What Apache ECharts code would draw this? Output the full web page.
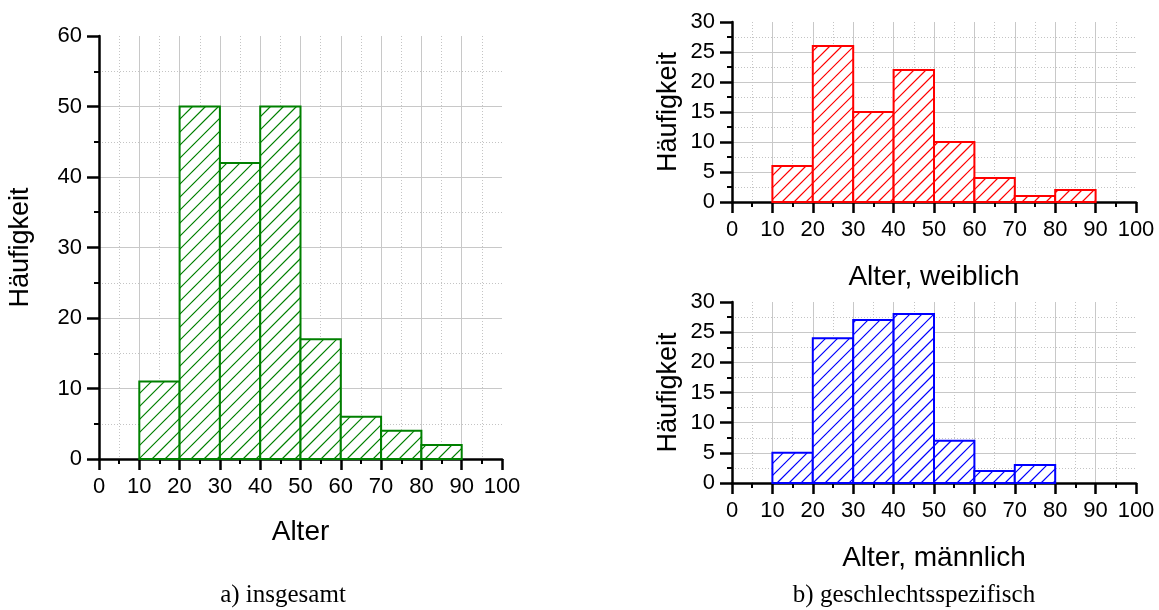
<!DOCTYPE html>
<html>
<head>
<meta charset="utf-8">
<script src="https://cdn.jsdelivr.net/npm/echarts@6/dist/echarts.min.js"></script>
<style>
  html, body { margin: 0; padding: 0; background: #ffffff; }
  #chart { width: 1159px; height: 610px; }
</style>
</head>
<body>
<div id="chart"></div>
<script>
// Age classes (lower and upper bound of each 10-year bin)
const binLower = [10, 20, 30, 40, 50, 60, 70, 80];
const binUpper = [20, 30, 40, 50, 60, 70, 80, 90];

// Frequencies per age class
const countsTotal  = [11, 50, 42, 50, 17, 6, 4, 2];
const countsFemale = [6, 26, 15, 22, 10, 4, 1, 2];
const countsMale   = [5, 24, 27, 28, 7, 2, 3, 0];

// Axis titles and panel captions
const xTitles = ['Alter', 'Alter, weiblich', 'Alter, männlich'];
const yTitle = 'Häufigkeit';
const captions = ['a) insgesamt', 'b) geschlechtsspezifisch'];

const FONT = '"Liberation Sans", Arial, sans-serif';
const SERIF = '25px "Liberation Serif", "Times New Roman", serif';

function binData(counts) {
  const out = [];
  for (let i = 0; i < counts.length; i++) {
    if (counts[i] > 0) out.push([binLower[i], binUpper[i], counts[i]]);
  }
  return out;
}

// Diagonal hatch ("/") clipped to a rectangle, anchored to a global lattice
function hatchPath(x0, y0, x1, y1, step, color) {
  const cStart = Math.ceil((x0 + y0) / step) * step;
  const segs = [];
  for (let c = cStart; c <= x1 + y1; c += step) {
    const xa = Math.max(x0, c - y1);
    const xb = Math.min(x1, c - y0);
    if (xb - xa < 0.5) continue;
    segs.push([xa, c - xa, xb, c - xb]);
  }
  return {
    type: 'path',
    shape: {
      pathData: segs.map(s => 'M' + s[0] + ' ' + s[1] + 'L' + s[2] + ' ' + s[3]).join(' ') || 'M0 0'
    },
    style: { fill: 'none', stroke: color, lineWidth: 1.2 },
    silent: true
  };
}

function histSeries(idx, counts, color, step) {
  return {
    type: 'custom',
    xAxisIndex: idx,
    yAxisIndex: idx,
    data: binData(counts),
    encode: { x: [0, 1], y: 2 },
    clip: false,
    itemStyle: { color: color },
    renderItem: function (params, api) {
      const topLeft = api.coord([api.value(0), api.value(2)]);
      const bottomRight = api.coord([api.value(1), 0]);
      const x0 = topLeft[0], y0 = topLeft[1], x1 = bottomRight[0], y1 = bottomRight[1];
      return {
        type: 'group',
        children: [
          { type: 'rect', shape: { x: x0, y: y0, width: x1 - x0, height: y1 - y0 },
            style: { fill: '#ffffff', stroke: 'none' } },
          hatchPath(x0, y0, x1, y1, step, color),
          { type: 'rect', shape: { x: x0, y: y0, width: x1 - x0, height: y1 - y0 },
            style: { fill: 'none', stroke: color, lineWidth: 2 } }
        ]
      };
    }
  };
}

const majorGrid = { show: true, showMaxLine: false, lineStyle: { color: '#c8c8c8', width: 1 } };
const minorGrid = { show: true, lineStyle: { color: '#c4c4c4', width: 1, type: [1, 2] } };

function xAxis(idx, title, gap) {
  return {
    type: 'value', gridIndex: idx, min: 0, max: 100, interval: 10,
    name: title, nameLocation: 'middle', nameGap: gap,
    nameTextStyle: { fontFamily: FONT, fontSize: 28, color: '#000' },
    axisLine: { show: true, onZero: false, lineStyle: { color: '#000', width: 2.5 } },
    axisTick: { show: true, inside: false, length: 11, lineStyle: { color: '#000', width: 2.5 } },
    minorTick: { show: true, splitNumber: 2, length: 5, lineStyle: { color: '#000', width: 2 } },
    axisLabel: { fontFamily: FONT, fontSize: 22, color: '#000', margin: 17, showMaxLabel: true },
    splitLine: majorGrid,
    minorSplitLine: minorGrid
  };
}

function yAxis(idx, max, interval, gap) {
  return {
    type: 'value', gridIndex: idx, min: 0, max: max, interval: interval,
    name: yTitle, nameLocation: 'middle', nameGap: gap, nameRotate: 90,
    nameTextStyle: { fontFamily: FONT, fontSize: 27, color: '#000' },
    axisLine: { show: true, onZero: false, lineStyle: { color: '#000', width: 2.5 } },
    axisTick: { show: true, inside: false, length: 12, lineStyle: { color: '#000', width: 2.5 } },
    minorTick: { show: true, splitNumber: 2, length: 5, lineStyle: { color: '#000', width: 2 } },
    axisLabel: { fontFamily: FONT, fontSize: 22, color: '#000', margin: 17 },
    splitLine: majorGrid,
    minorSplitLine: minorGrid
  };
}

const chart = echarts.init(document.getElementById('chart'), null, { renderer: 'canvas' });

chart.setOption({
  backgroundColor: '#ffffff',
  animation: false,
  grid: [
    { left: 99, right: 657, top: 36, bottom: 151 },
    { left: 732, right: 23, top: 22, bottom: 408 },
    { left: 732, right: 23, top: 302, bottom: 127 }
  ],
  xAxis: [
    xAxis(0, xTitles[0], 59),
    xAxis(1, xTitles[1], 61),
    xAxis(2, xTitles[2], 61)
  ],
  yAxis: [
    yAxis(0, 60, 10, 65),
    yAxis(1, 30, 5, 50),
    yAxis(2, 30, 5, 50)
  ],
  series: [
    histSeries(0, countsTotal, '#008000', 13),
    histSeries(1, countsFemale, '#ff0000', 12),
    histSeries(2, countsMale, '#0000ff', 12)
  ],
  graphic: [
    {
      type: 'text', x: 283, y: 595,
      style: { text: captions[0], font: SERIF, fill: '#000', align: 'center', verticalAlign: 'middle' }
    },
    {
      type: 'text', x: 914, y: 595,
      style: { text: captions[1], font: SERIF, fill: '#000', align: 'center', verticalAlign: 'middle' }
    }
  ]
});
</script>
</body>
</html>
